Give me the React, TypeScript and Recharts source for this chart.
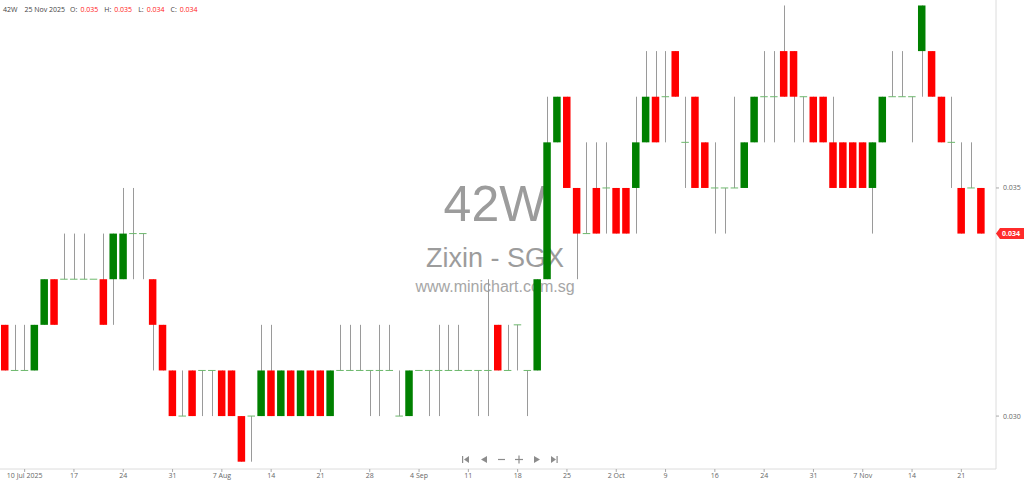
import React from 'react';
import {
  ComposedChart,
  Bar,
  XAxis,
  YAxis,
  ReferenceLine,
} from 'recharts';

// daily prices, 42W (Zixin - SGX), 8 Jul 2025 .. 25 Nov 2025
const opens = [
  0.032, 0.031, 0.031, 0.031, 0.032, 0.033, 0.033, 0.033, 0.033, 0.033,
  0.033, 0.033, 0.033, 0.034, 0.034, 0.033, 0.032, 0.031, 0.030, 0.031,
  0.031, 0.031, 0.031, 0.031, 0.030, 0.030, 0.030, 0.031, 0.030, 0.031,
  0.030, 0.031, 0.031, 0.030, 0.031, 0.031, 0.031, 0.031, 0.031, 0.031,
  0.030, 0.030, 0.031, 0.031, 0.031, 0.031, 0.031, 0.031, 0.031, 0.031,
  0.032, 0.031, 0.032, 0.031, 0.031, 0.033, 0.036, 0.037, 0.035, 0.034,
  0.035, 0.035, 0.035, 0.035, 0.035, 0.036, 0.037, 0.037, 0.038, 0.036,
  0.037, 0.036, 0.035, 0.035, 0.035, 0.035, 0.036, 0.037, 0.037, 0.038,
  0.038, 0.037, 0.037, 0.037, 0.036, 0.036, 0.036, 0.036, 0.035, 0.036,
  0.037, 0.037, 0.037, 0.038, 0.038, 0.037, 0.036, 0.035, 0.035, 0.035,
];
const highs = [
  0.032, 0.032, 0.032, 0.032, 0.033, 0.033, 0.034, 0.034, 0.034, 0.033,
  0.034, 0.034, 0.035, 0.035, 0.034, 0.033, 0.032, 0.031, 0.031, 0.031,
  0.031, 0.031, 0.031, 0.031, 0.030, 0.030, 0.032, 0.032, 0.031, 0.031,
  0.031, 0.031, 0.031, 0.031, 0.032, 0.032, 0.032, 0.031, 0.032, 0.032,
  0.031, 0.031, 0.031, 0.031, 0.032, 0.032, 0.032, 0.031, 0.031, 0.033,
  0.032, 0.032, 0.032, 0.031, 0.033, 0.037, 0.037, 0.037, 0.035, 0.036,
  0.036, 0.036, 0.035, 0.035, 0.037, 0.038, 0.038, 0.038, 0.038, 0.037,
  0.037, 0.036, 0.036, 0.035, 0.037, 0.036, 0.037, 0.038, 0.038, 0.039,
  0.038, 0.037, 0.037, 0.037, 0.037, 0.036, 0.036, 0.036, 0.036, 0.037,
  0.038, 0.038, 0.037, 0.039, 0.038, 0.037, 0.037, 0.036, 0.036, 0.035,
];
const lows = [
  0.031, 0.031, 0.031, 0.031, 0.032, 0.032, 0.033, 0.033, 0.033, 0.033,
  0.032, 0.032, 0.033, 0.033, 0.033, 0.031, 0.031, 0.030, 0.030, 0.030,
  0.030, 0.030, 0.030, 0.030, 0.029, 0.029, 0.030, 0.030, 0.030, 0.030,
  0.030, 0.030, 0.030, 0.030, 0.031, 0.031, 0.031, 0.030, 0.030, 0.031,
  0.030, 0.030, 0.031, 0.030, 0.030, 0.031, 0.031, 0.031, 0.030, 0.030,
  0.031, 0.031, 0.031, 0.030, 0.031, 0.033, 0.036, 0.035, 0.033, 0.034,
  0.034, 0.034, 0.034, 0.034, 0.034, 0.036, 0.036, 0.036, 0.037, 0.035,
  0.035, 0.035, 0.034, 0.034, 0.035, 0.035, 0.036, 0.036, 0.036, 0.037,
  0.036, 0.036, 0.036, 0.036, 0.035, 0.035, 0.035, 0.035, 0.034, 0.036,
  0.037, 0.037, 0.036, 0.037, 0.037, 0.036, 0.035, 0.034, 0.035, 0.034,
];
const closes = [
  0.031, 0.031, 0.031, 0.032, 0.033, 0.032, 0.033, 0.033, 0.033, 0.033,
  0.032, 0.034, 0.034, 0.034, 0.034, 0.032, 0.031, 0.030, 0.030, 0.030,
  0.031, 0.031, 0.030, 0.030, 0.029, 0.030, 0.031, 0.030, 0.031, 0.030,
  0.031, 0.030, 0.030, 0.031, 0.031, 0.031, 0.031, 0.031, 0.031, 0.031,
  0.030, 0.031, 0.031, 0.031, 0.031, 0.031, 0.031, 0.031, 0.031, 0.031,
  0.031, 0.031, 0.032, 0.031, 0.033, 0.036, 0.037, 0.035, 0.034, 0.034,
  0.034, 0.035, 0.034, 0.034, 0.036, 0.037, 0.036, 0.037, 0.037, 0.036,
  0.035, 0.035, 0.035, 0.035, 0.035, 0.036, 0.037, 0.037, 0.037, 0.037,
  0.037, 0.037, 0.036, 0.036, 0.035, 0.035, 0.035, 0.035, 0.036, 0.037,
  0.037, 0.037, 0.037, 0.039, 0.037, 0.036, 0.036, 0.034, 0.035, 0.034,
];

// x-axis labels and the bar they sit under
const tickBars = [2, 7, 12, 17, 22, 27, 32, 37, 42, 47, 52, 57, 62, 67, 72, 77, 82, 87, 92, 97];
const tickLabels = [
  '10 Jul 2025', '17', '24', '31', '7 Aug', '14', '21', '28', '4 Sep', '11',
  '18', '25', '2 Oct', '9', '16', '24', '31', '7 Nov', '14', '21',
];
const priceTicks = [0.03, 0.035];
const lastDate = '25 Nov 2025';

const UP = '#008000';
const DOWN = '#ff0000';
const WICK = '#9a9a9a';
const DOJI = '#6cb86c';

const data = opens.map((o, i) => ({ i, o, h: highs[i], l: lows[i], c: closes[i] }));
const last = data[data.length - 1];
const fmt = (v: number) => v.toFixed(3);

const Candle = (props: any) => {
  const { x, y, width, height } = props;
  const p = props.payload || props;
  const top = Math.min(y, y + height);
  const h = Math.abs(height);
  const cx = Math.round(x + width / 2) + 0.5;
  if (p.h === p.l || h === 0) {
    return <line x1={x} x2={x + width} y1={top} y2={top} stroke={DOJI} strokeWidth={1} />;
  }
  const k = h / (p.h - p.l);
  const yO = top + (p.h - p.o) * k;
  const yC = top + (p.h - p.c) * k;
  const bodyTop = Math.min(yO, yC);
  const bodyH = Math.abs(yO - yC);
  return (
    <g>
      <line x1={cx} x2={cx} y1={top} y2={top + h} stroke={WICK} strokeWidth={1} />
      {bodyH < 0.5 ? (
        <line x1={x} x2={x + width} y1={yO} y2={yO} stroke={DOJI} strokeWidth={1} />
      ) : (
        <rect x={x} y={bodyTop} width={width} height={bodyH} fill={p.c >= p.o ? UP : DOWN} />
      )}
    </g>
  );
};

const PriceTick = (props: any) => {
  const { x, y, payload } = props;
  if (payload.value === last.c) {
    return (
      <g>
        <polygon
          points={`${x - 5},${y} ${x - 1},${y - 5.5} ${x + 24},${y - 5.5} ${x + 24},${y + 5.5} ${x - 1},${y + 5.5}`}
          fill="#ff2b2b"
        />
        <text x={x + 1} y={y} dy={2.5} fontSize={7} fontWeight="bold" fill="#fff" fontFamily="Open Sans, sans-serif">
          {fmt(payload.value)}
        </text>
      </g>
    );
  }
  return (
    <text x={x + 2} y={y} dy={2.5} fontSize={7} fill="#666" fontFamily="Open Sans, sans-serif">
      {fmt(payload.value)}
    </text>
  );
};

const Header = () => {
  const lab = { color: '#444', marginRight: 3 };
  const val = { color: '#ff2020', marginRight: 6 };
  return (
    <div
      style={{
        position: 'absolute',
        left: 3,
        top: 5,
        fontFamily: 'Open Sans, sans-serif',
        fontSize: 7,
        whiteSpace: 'nowrap',
        zIndex: 3,
      }}
    >
      <span style={{ color: '#444', marginRight: 7 }}>42W</span>
      <span style={{ color: '#444', marginRight: 5 }}>{lastDate}</span>
      <span style={lab}>O:</span>
      <span style={val}>{fmt(last.o)}</span>
      <span style={lab}>H:</span>
      <span style={val}>{fmt(last.h)}</span>
      <span style={lab}>L:</span>
      <span style={val}>{fmt(last.l)}</span>
      <span style={lab}>C:</span>
      <span style={val}>{fmt(last.c)}</span>
    </div>
  );
};

const Watermark = () => (
  <div
    style={{
      position: 'absolute',
      left: 395,
      top: 179,
      width: 200,
      textAlign: 'center',
      fontFamily: 'Liberation Sans, Arial, sans-serif',
      color: '#9c9c9c',
      zIndex: 1,
      lineHeight: 1,
    }}
  >
    <div style={{ fontSize: 50 }}>42W</div>
    <div style={{ fontSize: 27, marginTop: 16 }}>Zixin - SGX</div>
    <div style={{ fontSize: 16, marginTop: 7, color: '#a6a6a6' }}>www.minichart.com.sg</div>
  </div>
);

const NavButtons = () => (
  <svg
    width={110}
    height={14}
    style={{ position: 'absolute', left: 455, top: 453, zIndex: 3 }}
  >
    <g fill="#8c8c8c" stroke="#8c8c8c">
      <rect x={7} y={3} width={1.2} height={7} stroke="none" />
      <polygon points="14,3 14,10 9,6.5" stroke="none" />
      <polygon points="32,3 32,10 26,6.5" stroke="none" />
      <line x1={43} x2={50} y1={6.5} y2={6.5} strokeWidth={1.2} />
      <line x1={60} x2={68} y1={6.5} y2={6.5} strokeWidth={1.2} />
      <line x1={64} x2={64} y1={2.5} y2={10.5} strokeWidth={1.2} />
      <polygon points="79,3 79,10 85,6.5" stroke="none" />
      <polygon points="96,3 96,10 101,6.5" stroke="none" />
      <rect x={101.5} y={3} width={1.2} height={7} stroke="none" />
    </g>
  </svg>
);

export default function App() {
  return (
    <div
      style={{
        position: 'absolute',
        left: 0,
        top: 0,
        width: 1024,
        height: 484,
        background: '#fff',
        overflow: 'hidden',
      }}
    >
      <Watermark />
      <Header />
      <div style={{ position: 'absolute', left: 0, top: 0, zIndex: 2 }}>
        <ComposedChart
          width={1024}
          height={484}
          data={data}
          margin={{ top: 0, right: 0, bottom: 0, left: 0 }}
          barCategoryGap={0}
        >
          <XAxis
            dataKey="i"
            type="category"
            ticks={tickBars}
            interval={0}
            tickFormatter={(v: number) => tickLabels[tickBars.indexOf(v)] ?? ''}
            padding={{ left: 0, right: 10 }}
            height={15}
            tickSize={3}
            tickMargin={1}
            axisLine={{ stroke: '#dcdcdc' }}
            tickLine={{ stroke: '#aaa' }}
            tick={{ fontSize: 7, fill: '#666', fontFamily: 'Open Sans, sans-serif' }}
          />
          <YAxis
            orientation="right"
            width={28}
            type="number"
            domain={[0.02884, 0.03912]}
            allowDataOverflow
            ticks={[...priceTicks, last.c]}
            interval={0}
            tickSize={3}
            tickMargin={2}
            axisLine={{ stroke: '#dcdcdc' }}
            tickLine={{ stroke: '#aaa' }}
            tick={<PriceTick />}
          />
          <Bar
            dataKey={(d: any) => [d.l, d.h]}
            barSize={7.5}
            shape={<Candle />}
            isAnimationActive={false}
          />
          <ReferenceLine y={last.c} stroke="none" />
        </ComposedChart>
      </div>
      <NavButtons />
    </div>
  );
}
